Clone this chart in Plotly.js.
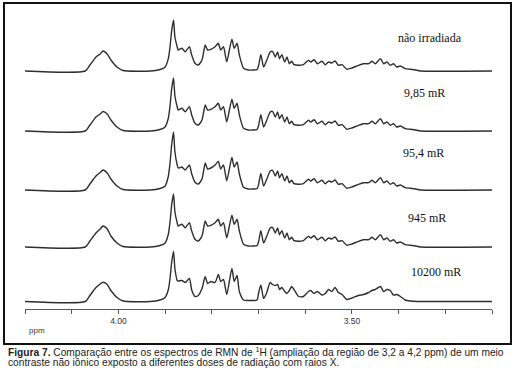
<!DOCTYPE html>
<html>
<head>
<meta charset="utf-8">
<script src="https://cdn.plot.ly/plotly-3.0.1.min.js"></script>
<style>
html,body{margin:0;padding:0;background:#fff;}
#chart{width:517px;height:377px;}
</style>
</head>
<body>
<div id="chart"></div>
<script>
// chemical shift sampling points (ppm)
const ppm = [4.200,4.071,4.061,4.048,4.039,4.033,4.024,4.016,4.003,3.990,
  3.932,3.911,3.900,3.893,3.889,3.886,3.882,3.879,3.874,3.872,
  3.864,3.857,3.848,3.843,3.836,3.829,3.821,3.814,3.809,3.802,
  3.793,3.786,3.781,3.775,3.768,3.757,3.752,3.746,3.741,3.732,
  3.722,3.711,3.703,3.700,3.695,3.689,3.683,3.675,3.670,3.664,
  3.659,3.655,3.650,3.644,3.639,3.634,3.629,3.624,3.614,3.604,
  3.593,3.588,3.581,3.574,3.564,3.557,3.550,3.543,3.536,3.529,
  3.521,3.511,3.500,3.486,3.475,3.464,3.457,3.450,3.439,3.432,
  3.425,3.418,3.411,3.404,3.396,3.386,3.375,3.361,3.354,3.200];

// intensities (arbitrary units) for each dose
const naoIrradiada = [0,0,6,14,17,20,17,11,4,0.5,
  0,1.5,4,12.7,26,40,51,34,24,21,
  22.7,19.3,24.3,16,7.7,6,11,26,21,21.7,
  24.3,27.7,21,24.3,9.3,31.7,22.7,27.7,16,2.7,
  1,1,1.5,5,16.3,4,10,19,19.7,14,
  19,12.3,16.3,9,14,7.3,9.7,6.3,5.7,6.3,
  10.7,9,11.3,7.3,9.7,6.3,9,8,10,5.7,
  6.3,1.7,3,5.7,7.3,7.3,9.7,7.3,12.3,7.3,
  9,5.7,7.3,4,5,2.3,1.7,0.7,0,0];
const dose985 = [0,0,6,14,17,19.5,17,11,4,0.5,
  0,1.5,4,13,27,42,53,35,24,21,
  22.7,19.3,24.3,16,7.7,6,11,26,21,21.7,
  24.3,27.7,21,24.3,9.3,31.7,22.7,27.7,16,2.7,
  1,1,1.5,5,16.3,4,10,19,19.7,14,
  19,12.3,16.3,9,14,7.3,9.7,6.3,5.7,6.3,
  10.7,9,11.3,7.3,9.7,6.3,9,8,10,5.7,
  6.3,1.7,3,5.7,7.3,7.3,9.7,7.3,12.3,7.3,
  9,5.7,7.3,4,5,2.3,1.7,0.7,0,0];
const dose954 = [0,0,6,14,17.5,20,17,11,4,0.5,
  0,1.5,4,14,29,45,58,38,25,22,
  23,20,25,16,7.7,6,11,27,21,22,
  25,28.5,21,25,9.3,32.5,23,28,16,2.7,
  1,1,1.5,5,16.5,4,10,19,19.7,14,
  19,12.3,16.3,9,14,7.3,9.7,6.3,5.7,6.3,
  10.7,9,11.3,7.3,9.7,6.3,9,8,10,5.7,
  6.3,1.7,3,5.7,7.3,7.3,9.7,7.3,12.3,7.3,
  9,5.7,7.3,4,5,2.3,1.7,0.7,0,0];
const dose945 = [0,0,6,14,18,21,18,11,4,0.5,
  0,1.5,4,13,27,42,53,35,24,21,
  22.7,19.3,24.3,16,7.7,6,11,26,21,21.7,
  24.3,27.7,21,24.3,9.3,31.7,22.7,27.7,16,2.7,
  1,1,1.5,5,16.3,4,10,19,19.7,14,
  19,12.3,16.3,9,14,7.3,9.7,6.3,5.7,6.3,
  10.7,9,11.3,7.3,9.7,6.3,9,8,10,5.7,
  6.3,1.7,3,5.7,7.3,7.3,9.7,7.3,12.3,7.3,
  9,5.7,7.3,4,5,2.3,1.7,0.7,0,0];
const dose10200 = [0,0,6,14,17.5,19.3,17,11,4,0.5,
  0,1.5,4,12,25,39,50,33,21,20.5,
  21,19,23,11.5,5,6,13,25,18,20,
  19,27,20,22,7,33,20,26,10,1.5,
  1,1,1.5,8,16.5,3,8,19,17,16,
  17,12,14,10,8,11,15,12,5,5,
  10,11,8,10,6.5,8,12,10,14,9,
  7,2,3.5,6,7,9,11,12,15,10,
  12,11,6.5,7,5,1.5,0.5,0,0,0];

const seriesValues = [naoIrradiada, dose985, dose954, dose945, dose10200];
const seriesLabels = ["não irradiada", "9,85 mR", "95,4 mR", "945 mR", "10200 mR"];
const majorTickValues = [4.0, 3.5];
const majorTickLabels = ["4.00", "3.50"];
const minorTickValues = [4.2, 4.1, 3.9, 3.8, 3.7, 3.6, 3.4, 3.3, 3.2];

// layout constants (vertical stacking offsets and label positions)
const stackOffsets = [238, 178, 119, 62, 7.5];
const labelPos = [[3.332, 271],[3.3435, 216],[3.346, 156],[3.340, 91],[3.319, 37]];

const traces = seriesValues.map((vals, i) => ({
  x: ppm,
  y: vals.map(v => v + stackOffsets[i]),
  type: 'scatter',
  mode: 'lines',
  line: {color: '#2e2e2e', width: 1.4, shape: 'spline', smoothing: 0.6},
  hoverinfo: 'skip',
  showlegend: false
}));

const W = 467, H = 299, L = 25, B = 309;
const px = x => (x - L) / W;
const py = y => (B - y) / H;

const annotations = seriesLabels.map((t, i) => ({
  x: labelPos[i][0], y: labelPos[i][1], xref: 'x', yref: 'y',
  text: t, showarrow: false, xanchor: 'center', yanchor: 'middle',
  font: {family: 'Liberation Serif, Times New Roman, serif', size: 12, color: '#111'}
}));
annotations.push({
  x: px(27), y: py(330), xref: 'paper', yref: 'paper', text: 'ppm',
  showarrow: false, xanchor: 'left', yanchor: 'middle',
  font: {family: 'Liberation Sans, Arial, sans-serif', size: 8, color: '#333'}
});
annotations.push({
  x: px(6), y: py(352), xref: 'paper', yref: 'paper',
  text: '<b>Figura 7.</b> Comparação entre os espectros de RMN de <sup>1</sup>H (ampliação da região de 3,2 a 4,2 ppm) de um meio',
  showarrow: false, xanchor: 'left', yanchor: 'middle',
  font: {family: 'Liberation Sans, Arial, sans-serif', size: 10.2, color: '#222'}
});
annotations.push({
  x: px(6), y: py(363), xref: 'paper', yref: 'paper',
  text: 'contraste não iônico exposto a diferentes doses de radiação com raios X.',
  showarrow: false, xanchor: 'left', yanchor: 'middle',
  font: {family: 'Liberation Sans, Arial, sans-serif', size: 10.2, color: '#222'}
});

const layout = {
  width: 517, height: 377,
  margin: {l: 25, r: 25, t: 10, b: 68, pad: 0},
  paper_bgcolor: '#fff', plot_bgcolor: '#fff',
  xaxis: {
    range: [4.2, 3.2], showgrid: false, zeroline: false,
    showline: true, linecolor: '#555', linewidth: 1,
    ticks: 'outside', ticklen: 4, tickcolor: '#555', tickwidth: 1,
    tickmode: 'array', tickvals: majorTickValues, ticktext: majorTickLabels,
    minor: {tickmode: 'array', tickvals: minorTickValues, ticks: 'outside',
            ticklen: 4, tickcolor: '#555', tickwidth: 1, showgrid: false},
    tickfont: {family: 'Liberation Sans, Arial, sans-serif', size: 8.5, color: '#333'},
    fixedrange: true
  },
  yaxis: {range: [0, 299], visible: false, fixedrange: true},
  shapes: [{
    type: 'rect', xref: 'paper', yref: 'paper',
    x0: px(4), x1: px(511), y0: py(344), y1: py(3),
    line: {color: '#111', width: 2}, fillcolor: 'rgba(0,0,0,0)', layer: 'above'
  }],
  annotations: annotations
};

Plotly.newPlot('chart', traces, layout, {displayModeBar: false, staticPlot: true});
</script>
</body>
</html>
